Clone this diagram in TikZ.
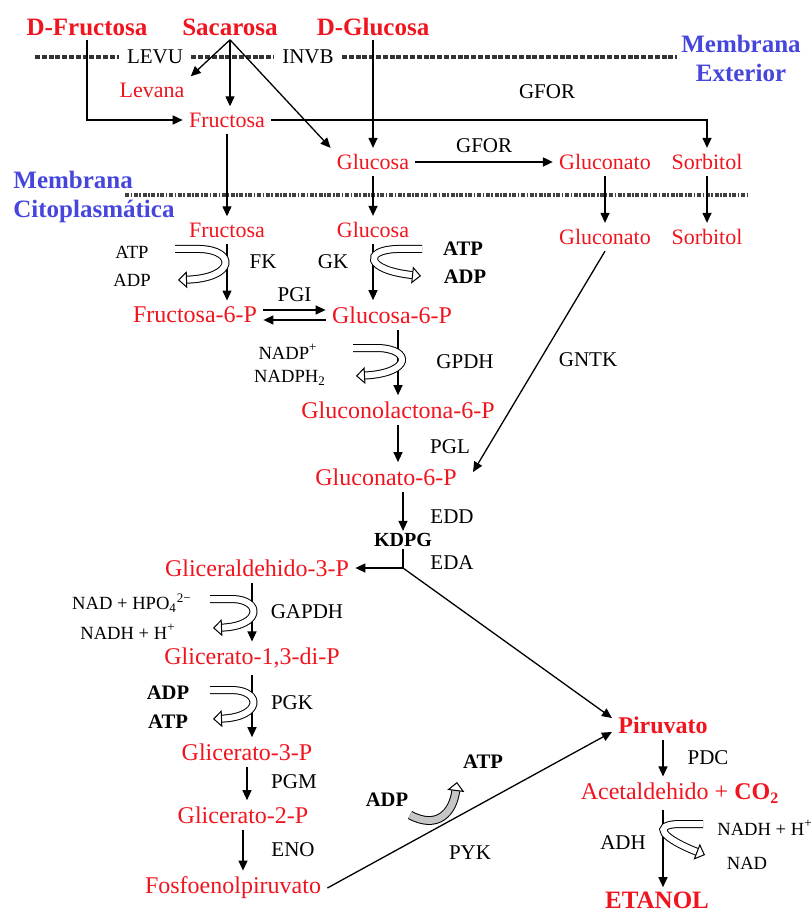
\documentclass[tikz,border=0pt]{standalone}
\usepackage{fontspec}
\setmainfont{Liberation Serif}
\definecolor{MetRed}{RGB}{240,20,30}
\definecolor{MemBlue}{RGB}{70,70,220}
\usetikzlibrary{arrows.meta, positioning, calc}

\begin{document}
\begin{tikzpicture}[x=0.5pt, y=-0.5pt,
        met/.style={text=MetRed, inner sep=3pt, font=\fontsize{12}{14}\selectfont},
        metb/.style={met, font=\fontsize{12}{14}\selectfont\bfseries},
        metsm/.style={text=MetRed, inner sep=3pt, font=\fontsize{11}{13}\selectfont},
        src/.style={text=MetRed, inner sep=2pt, font=\fontsize{12.5}{14}\selectfont\bfseries},
        enz/.style={inner sep=1pt, font=\fontsize{10.5}{12}\selectfont},
        cof/.style={inner sep=1pt, font=\fontsize{9.3}{11}\selectfont},
        cofb/.style={inner sep=1pt, font=\fontsize{10.3}{12}\selectfont\bfseries},
        memb/.style={text=MemBlue, inner sep=0pt, font=\fontsize{12.5}{14.5}\selectfont\bfseries},
        arr/.style={-{Triangle[length=5pt, width=4.5pt]}, line width=0.65pt},
        band/.style={double=white, double distance=3pt, line width=0.5pt, -{Triangle[open, length=4.5pt, width=8.5pt]}},
        exterior/.style={line width=1.9pt, dash pattern=on 2.5pt off 0.9pt, black!80},
        cyto/.style={line width=1.6pt, dash pattern=on 2pt off 0.8pt on 0.8pt off 0.8pt, black!75}
    ]
    \useasboundingbox (0,0) rectangle (812,914);

    % membranas
    \node[enz, inner sep=4pt] (levu) at (155,57) {LEVU};
    \node[enz, inner sep=4pt] (invb) at (308,57) {INVB};
    \coordinate (extL) at (35,57);
    \coordinate (extR) at (677,57);
    \draw[exterior] (extL) -- (levu.west);
    \draw[exterior] (levu.east) -- (invb.west);
    \draw[exterior] (invb.east) -- (extR);
    \node[memb, align=center] (memext) at (741,58) {Membrana\\Exterior};
    \node[memb, align=left, anchor=west] (memcit) at (13,197) {Membrana\\Citoplasmática};
    \coordinate (citL) at (125,195);
    \coordinate (citR) at (748,195);
    \draw[cyto] (citL) -- (citR);

    % exterior
    \node[src] (dfru) at (87,27) {D-Fructosa};
    \node[src] (sac) at (230,27) {Sacarosa};
    \node[src] (dglc) at (373,27) {D-Glucosa};
    \node[metsm] (lev) at (152,90) {Levana};
    \node[metsm] (fru1) at (227,120) {Fructosa};
    \node[enz] (gfor1) at (547,92) {GFOR};
    \node[metsm] (glc1) at (373,162) {Glucosa};
    \node[metsm] (gnt1) at (605,162) {Gluconato};
    \node[metsm] (sor1) at (707,162) {Sorbitol};
    \node[metsm] (fru2) at (227,230) {Fructosa};
    \node[metsm] (glc2) at (373,230) {Glucosa};
    \node[metsm] (gnt2) at (605,237) {Gluconato};
    \node[metsm] (sor2) at (707,237) {Sorbitol};

    \draw[arr] (dfru.south) |- (fru1.west);
    \draw[arr] (sac.south) -- (lev.north east);
    \draw[arr] (sac.south) -- (sac.south |- fru1.north);
    \draw[arr] (sac.south) -- (glc1.north west);
    \draw[arr] (dglc) -- (glc1);
    \draw[arr] (fru1.east) -| (sor1.north);
    \draw[arr, line width=1.1pt] (glc1.east) -- node[enz, above=3pt] {GFOR} (gnt1.west);
    \draw[arr] (fru1) -- (fru2);
    \draw[arr] (glc1) -- (glc2);
    \draw[arr] (gnt1) -- (gnt2);
    \draw[arr] (sor1) -- (sor2);

    % fosforilacion
    \node[met] (f6p) at (195,315) {Fructosa-6-P};
    \node[met] (g6p) at (392,315) {Glucosa-6-P};
    \draw[arr] (fru2) -- (fru2 |- f6p.north);
    \draw[arr] (glc2) -- (glc2 |- g6p.north);
    \draw[arr] ([yshift=2.5pt]f6p.east) -- node[enz, above=3pt] {PGI} ([yshift=2.5pt]g6p.west);
    \draw[arr] ([yshift=-2.5pt]g6p.west) -- ([yshift=-2.5pt]f6p.east);

    \node[cof] (atp1) at (132,252) {ATP};
    \node[cof] (adp1) at (132,280) {ADP};
    \node[enz] (fk) at (263,262) {FK};
    \node[enz] (gk) at (333,262) {GK};
    \node[cofb] (atp2) at (463,249) {ATP};
    \node[cofb] (adp2) at (465,277) {ADP};
    \coordinate (fkin) at (175,249);
    \coordinate (fkout) at (178,280);
    \draw[band] (fkin) -- ++(25,0) .. controls +(36,1) and +(58,-2) .. (fkout);
    \coordinate (gkin) at (422,249);
    \coordinate (gkout) at (421,276);
    \draw[band] (gkin) -- ++(-25,0) .. controls +(-34,1) and +(-56,-6) .. (gkout);

    % Entner-Doudoroff
    \node[cof] (nadp) at (288,352) {NADP\textsuperscript{+}};
    \node[cof] (nadph) at (290,378) {NADPH\textsubscript{2}};
    \node[enz] (gpdh) at (465,362) {GPDH};
    \node[met] (gl6p) at (398,410) {Gluconolactona-6-P};
    \draw[arr] (g6p.south -| gl6p) -- (gl6p.north);
    \coordinate (gpdhin) at (353,348);
    \coordinate (gpdhout) at (356,376);
    \draw[band] (gpdhin) -- ++(25,0) .. controls +(34,1) and +(56,-3) .. (gpdhout);

    \node[enz] (pgl) at (450,447) {PGL};
    \node[met] (gn6p) at (386,477) {Gluconato-6-P};
    \draw[arr] (gl6p) -- (gl6p |- gn6p.north);
    \node[enz] (gntk) at (588,360) {GNTK};
    \draw[arr] (gnt2.south) -- ([shift={(5pt,2.5pt)}]gn6p.east);

    \node[enz] (edd) at (452,517) {EDD};
    \node[enz, font=\fontsize{10}{12}\selectfont\bfseries] (kdpg) at (403,540) {KDPG};
    \draw[arr] (gn6p.south -| kdpg) -- (kdpg.north);
    \node[enz] (eda) at (452,563) {EDA};
    \node[met] (ga3p) at (257,568) {Gliceraldehido-3-P};
    \coordinate (split) at (kdpg |- ga3p);
    \node[metb] (pyr) at (663,725) {Piruvato};
    \draw[line width=0.65pt] (kdpg.south) -- (split);
    \draw[arr] (split) -- (ga3p.east);
    \draw[arr] (split) -- ([yshift=3.5pt]pyr.west);

    % glicolisis inferior
    \node[met] (g13p) at (252,658) {Glicerato-1,3-di-P};
    \draw[arr] (ga3p.south -| g13p) -- (g13p.north);
    \node[cof] (nadhpo) at (132,603) {NAD + HPO\textsubscript{4}\textsuperscript{2−}};
    \node[cof] (nadh1) at (128,632) {NADH + H\textsuperscript{+}};
    \node[enz] (gapdh) at (307,612) {GAPDH};
    \coordinate (gapin) at (210,599);
    \coordinate (gapout) at (213,628);
    \draw[band] (gapin) -- ++(23,0) .. controls +(29,1) and +(49,-2) .. (gapout);

    \node[cofb] (adp3) at (168,693) {ADP};
    \node[cofb] (atp3) at (168,722) {ATP};
    \node[enz] (pgk) at (292,703) {PGK};
    \node[met] (g3p) at (247,752) {Glicerato-3-P};
    \draw[arr] (g13p) -- (g13p |- g3p.north);
    \coordinate (pgkin) at (210,690);
    \coordinate (pgkout) at (213,719);
    \draw[band] (pgkin) -- ++(23,0) .. controls +(29,1) and +(49,-2) .. (pgkout);

    \node[enz] (pgm) at (294,782) {PGM};
    \node[met] (g2p) at (243,815) {Glicerato-2-P};
    \draw[arr] (g3p) -- (g3p |- g2p.north);
    \node[enz] (eno) at (293,850) {ENO};
    \node[met] (pep) at (233,888) {Fosfoenolpiruvato};
    \draw[arr] (g2p) -- (g2p |- pep.north);
    \draw[arr] (pep.east) -- ([yshift=-3.5pt]pyr.west);

    \node[cofb] (adp4) at (387,800) {ADP};
    \node[cofb] (atp4) at (483,762) {ATP};
    \node[enz] (pyk) at (470,853) {PYK};
    \coordinate (pykin) at (410,815);
    \coordinate (pykout) at (457,782);
    \draw[band, double=gray!45, double distance=3.4pt] (pykin) .. controls +(28,15) and +(-4,30) .. (pykout);

    % fermentacion
    \node[met] (acet) at (680,793) {Acetaldehido + \textbf{CO\textsubscript{2}}};
    \node[enz] (pdc) at (708,758) {PDC};
    \draw[arr] (pyr) -- (pyr |- acet.north);
    \node[enz] (adh) at (623,843) {ADH};
    \node[cof] (nadh2) at (765,828) {NADH + H\textsuperscript{+}};
    \node[cof] (nad) at (747,863) {NAD};
    \node[src] (eth) at (657,900) {ETANOL};
    \draw[arr] (acet.south -| pyr) -- (pyr |- eth.north);
    \coordinate (adhin) at (703,824);
    \coordinate (adhout) at (705,855);
    \draw[band] (adhin) -- ++(-25,0) .. controls +(-26,1) and +(-43,-17) .. (adhout);
\end{tikzpicture}
\end{document}
